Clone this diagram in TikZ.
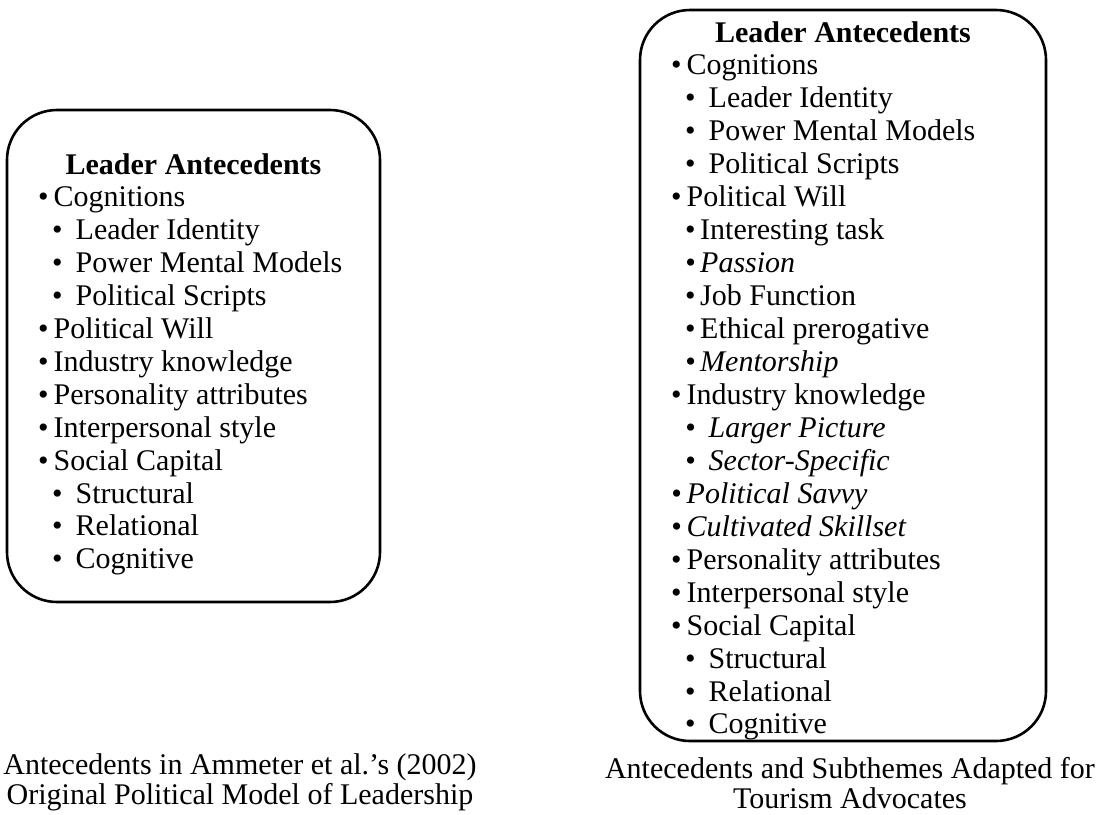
\documentclass[tikz,border=0pt]{standalone}
\usepackage{fontspec}
\setmainfont{Liberation Serif}
\newcommand{\diagfont}{\fontsize{30}{30}\selectfont}

\begin{document}
\begin{tikzpicture}[x=1pt,y=-1pt,
  panel/.style={draw,line width=2.6pt,rounded corners=50pt},
  entry/.style={anchor=base west,inner sep=0pt,font=\diagfont},
  lvla/.style={entry,execute at begin node={\textbullet\hspace{5pt}}},
  lvlb/.style={entry,xshift=14pt,execute at begin node={\textbullet\hspace{13pt}}},
  lvlc/.style={entry,xshift=14pt,execute at begin node={\textbullet\hspace{4.5pt}}},
  lvlai/.style={lvla,font=\diagfont\itshape},
  lvlbi/.style={lvlb,font=\diagfont\itshape},
  lvlci/.style={lvlc,font=\diagfont\itshape},
  heading/.style={anchor=base,inner sep=0pt,font=\diagfont\bfseries},
  caption/.style={align=center,inner sep=0pt,font=\diagfont}]
  \useasboundingbox (0,0) rectangle (1097,814);

  % original model
  \draw[panel] (7,110) rectangle (380,602);
  \node[heading] (lhead) at (193.5,174) {Leader Antecedents};
  \foreach \kind/\txt [count=\i] in {lvla/Cognitions, lvlb/Leader Identity,
      lvlb/Power Mental Models, lvlb/Political Scripts, lvla/Political Will,
      lvla/Industry knowledge, lvla/Personality attributes,
      lvla/Interpersonal style, lvla/Social Capital, lvlb/Structural,
      lvlb/Relational, lvlb/Cognitive}
    \node[\kind] (left\i) at (38,{174+\i*32.9}) {\txt};
  \node[caption] (lcap) at (240,782)
    {Antecedents in Ammeter et al.'s (2002)\\Original Political Model of Leadership};

  % adapted model
  \draw[panel] (640,10) rectangle (1046,741);
  \node[heading] (rhead) at (843,42) {Leader Antecedents};
  \foreach \kind/\txt [count=\i] in {lvla/Cognitions, lvlb/Leader Identity,
      lvlb/Power Mental Models, lvlb/Political Scripts, lvla/Political Will,
      lvlc/Interesting task, lvlci/Passion, lvlc/Job Function,
      lvlc/Ethical prerogative, lvlci/Mentorship, lvla/Industry knowledge,
      lvlbi/Larger Picture, lvlbi/Sector-Specific, lvlai/Political Savvy,
      lvlai/Cultivated Skillset, lvla/Personality attributes,
      lvla/Interpersonal style, lvla/Social Capital, lvlb/Structural,
      lvlb/Relational, lvlb/Cognitive}
    \node[\kind] (right\i) at (671,{42+\i*32.95}) {\txt};
  \node[caption] (rcap) at (850,783)
    {Antecedents and Subthemes Adapted for\\Tourism Advocates};
\end{tikzpicture}
\end{document}
